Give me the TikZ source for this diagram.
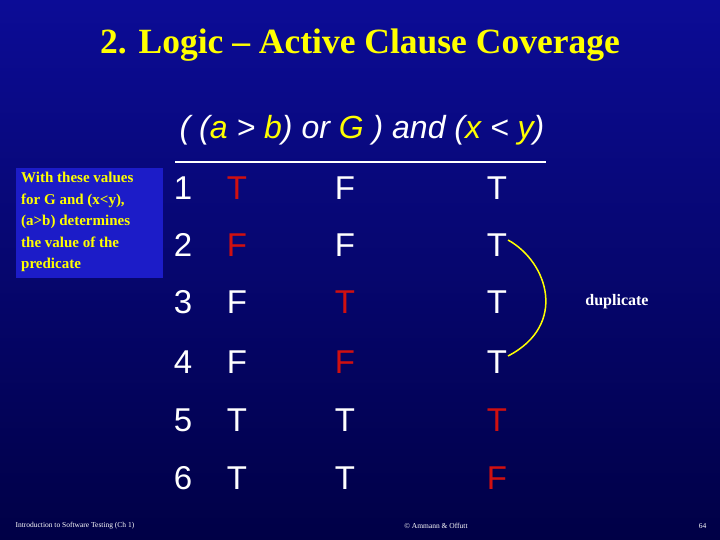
\documentclass[tikz,border=0pt]{standalone}
\usepackage{fontspec}
\setmainfont{Liberation Serif}
\setsansfont{Liberation Sans}
\begin{document}
\begin{tikzpicture}[x=1pt,y=-1pt,
  cell/.style={font=\sffamily\fontsize{33}{33}\selectfont,text=white,anchor=center,inner sep=0pt},
  foot/.style={font=\rmfamily\fontsize{7.5}{7.5}\selectfont,text=white}]
\definecolor{redT}{HTML}{D01010}
\definecolor{yel}{HTML}{FFFF00}
\definecolor{boxblue}{HTML}{1C1CC8}
\shade[top color={rgb,255:red,12;green,12;blue,150},bottom color={rgb,255:red,0;green,0;blue,70}] (0,0) rectangle (720,540);
\useasboundingbox (0,0) rectangle (720,540);
\node (title) at (360,45) {\fontsize{35.5}{35.5}\selectfont\bfseries\color{yel}2. Logic -- Active Clause Coverage};
\node (pred) at (362,130) {\sffamily\itshape\fontsize{32}{32}\selectfont\color{white}( (\textcolor{yel}{a} > \textcolor{yel}{b}) or \textcolor{yel}{G} ) and (\textcolor{yel}{x} < \textcolor{yel}{y})};
\coordinate (l1) at (175,162); \coordinate (l2) at (546,162);
\draw[white,line width=2.5pt] (l1) -- (l2);
\node[fill=boxblue,minimum width=147,minimum height=110,anchor=north west,inner sep=0pt] (box) at (16,168) {};
\node[anchor=north west,align=left,inner sep=0pt,font=\bfseries\fontsize{15}{21.5}\selectfont,text=yel] (boxt) at (21,172) {With these values\\ for G and (x<y),\\ (a>b) determines\\ the value of the\\ predicate};
\foreach \n/\y/\a/\b/\c/\ca/\cb/\cc in {1/188/T/F/T/redT/white/white,2/245/F/F/T/redT/white/white,3/302/F/T/T/white/redT/white,4/362/F/F/T/white/redT/white,5/420/T/T/T/white/white/redT,6/478/T/T/F/white/white/redT}{
  \node[cell] (n\n) at (183,\y) {\n};
  \node[cell,text=\ca] (a\n) at (237,\y) {\a};
  \node[cell,text=\cb] (b\n) at (345,\y) {\b};
  \node[cell,text=\cc] (c\n) at (497,\y) {\c};
}
\coordinate (s) at (508,240); \coordinate (e) at (508,356);
\draw[yel,line width=1.5pt] (s) .. controls (548,262) and (568,325) .. (e);
\node[font=\bfseries\fontsize{16}{16}\selectfont,text=white] (dup) at (617,302) {duplicate};
\node[foot,anchor=west] (f1) at (12,526) {Introduction to Software Testing (Ch 1)};
\node[foot] (f2) at (436,526) {\textcopyright{} Ammann \& Offutt};
\node[foot,anchor=east] (f3) at (710,526) {64};
\end{tikzpicture}
\end{document}
